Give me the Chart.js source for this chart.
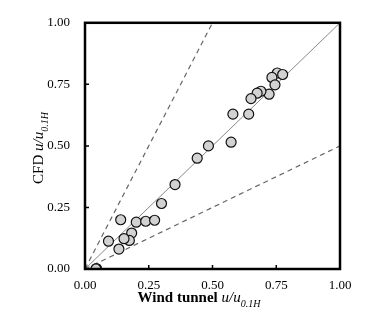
<!DOCTYPE html>
<html>
<head>
<meta charset="utf-8">
<script src="https://cdn.jsdelivr.net/npm/chart.js@4.4.0/dist/chart.umd.min.js"></script>
<style>
    html, body { margin: 0; padding: 0; background: #fff; }
    #wrap { width: 386px; height: 330px; }
</style>
</head>
<body>
<div id="wrap"><canvas id="scatter-cfd"></canvas></div>
<script>
// wind tunnel vs CFD normalised speed u/u0.1H
let windTunnel = [0.754, 0.775, 0.733, 0.745, 0.722, 0.690, 0.675, 0.651, 0.642, 0.580,
                  0.573, 0.484, 0.440, 0.353, 0.300, 0.140, 0.201, 0.238, 0.273, 0.183,
                  0.174, 0.153, 0.092, 0.133, 0.045, 0.043];
let cfd = [0.796, 0.790, 0.778, 0.748, 0.710, 0.722, 0.714, 0.692, 0.629, 0.629,
           0.515, 0.500, 0.450, 0.343, 0.266, 0.200, 0.190, 0.194, 0.198, 0.146,
           0.116, 0.123, 0.113, 0.081, 0.002, 0.0];

// reference lines: 1:1 and factor of two either side
let lineOneToOne = [[0, 0], [1, 1]];
let lineUpper = [[0, 0], [0.5, 1]];
let lineLower = [[0, 0], [1, 0.5]];

let tickValues = [0, 0.25, 0.5, 0.75, 1];

let serif = "'Liberation Serif', 'Times New Roman', serif";

function toXY(pairs) {
    return pairs.map(function (p) { return { x: p[0], y: p[1] }; });
}

let points = [];
for (let i = 0; i < windTunnel.length; i++) {
    points.push({ x: windTunnel[i], y: cfd[i] });
}

// draws a label made of runs like [text, font, dy]
function drawRuns(ctx, runs) {
    let x = 0;
    for (let i = 0; i < runs.length; i++) {
        ctx.font = runs[i][1];
        ctx.fillText(runs[i][0], x, runs[i][2]);
        x += ctx.measureText(runs[i][0]).width;
    }
    return x;
}

function runsWidth(ctx, runs) {
    let w = 0;
    for (let i = 0; i < runs.length; i++) {
        ctx.font = runs[i][1];
        w += ctx.measureText(runs[i][0]).width;
    }
    return w;
}

let framePlugin = {
    id: 'frame',
    afterDraw: function (chart) {
        let ctx = chart.ctx;
        let a = chart.chartArea;
        let xs = chart.scales.x;
        let ys = chart.scales.y;

        ctx.save();
        // inward ticks on bottom and left
        ctx.strokeStyle = '#000';
        ctx.lineWidth = 1.5;
        ctx.beginPath();
        for (let i = 1; i < tickValues.length - 1; i++) {
            let px = xs.getPixelForValue(tickValues[i]);
            ctx.moveTo(px, a.bottom);
            ctx.lineTo(px, a.bottom - 4);
            let py = ys.getPixelForValue(tickValues[i]);
            ctx.moveTo(a.left, py);
            ctx.lineTo(a.left + 4, py);
        }
        ctx.stroke();

        // box
        ctx.lineWidth = 2.5;
        ctx.strokeRect(a.left, a.top, a.right - a.left, a.bottom - a.top);

        // axis titles
        ctx.fillStyle = '#000';
        ctx.textBaseline = 'alphabetic';
        let xRuns = [
            ['Wind tunnel ', 'bold 15px ' + serif, 0],
            ['u/u', 'italic 15px ' + serif, 0],
            ['0.1H', 'italic 10px ' + serif, 5]
        ];
        let w = runsWidth(ctx, xRuns);
        ctx.save();
        ctx.translate(199 - w / 2, 302);
        drawRuns(ctx, xRuns);
        ctx.restore();

        let yRuns = [
            ['CFD ', '15px ' + serif, 0],
            ['u/u', 'italic 15px ' + serif, 0],
            ['0.1H', 'italic 10px ' + serif, 5]
        ];
        w = runsWidth(ctx, yRuns);
        ctx.save();
        ctx.translate(43, 148 + w / 2);
        ctx.rotate(-Math.PI / 2);
        drawRuns(ctx, yRuns);
        ctx.restore();

        ctx.restore();
    }
};

new Chart(document.getElementById('scatter-cfd'), {
    type: 'scatter',
    data: {
        datasets: [{
            label: 'CFD',
            data: points,
            pointRadius: 5,
            pointBackgroundColor: '#d2d2d2',
            pointBorderColor: '#111',
            pointBorderWidth: 1.2
        }, {
            type: 'line',
            label: '1:1',
            data: toXY(lineOneToOne),
            borderColor: '#7a7a7a',
            borderWidth: 0.9,
            pointRadius: 0,
            fill: false
        }, {
            type: 'line',
            label: 'x2',
            data: toXY(lineUpper),
            borderColor: '#666',
            borderWidth: 1.2,
            borderDash: [5, 4],
            pointRadius: 0,
            fill: false
        }, {
            type: 'line',
            label: 'x0.5',
            data: toXY(lineLower),
            borderColor: '#666',
            borderWidth: 1.2,
            borderDash: [5, 4],
            pointRadius: 0,
            fill: false
        }]
    },
    options: {
        responsive: true,
        maintainAspectRatio: false,
        animation: false,
        layout: { padding: { left: 0, right: 46, top: 20, bottom: 0 } },
        plugins: {
            legend: { display: false },
            tooltip: { enabled: false }
        },
        scales: {
            x: {
                type: 'linear',
                min: 0,
                max: 1,
                afterFit: function (scale) { scale.height = 61; },
                grid: { display: false, drawTicks: false },
                border: { display: false },
                ticks: {
                    stepSize: 0.25,
                    padding: 9,
                    color: '#000',
                    font: { family: serif, size: 13 },
                    maxRotation: 0,
                    callback: function (v) { return v.toFixed(2); }
                }
            },
            y: {
                type: 'linear',
                min: 0,
                max: 1,
                afterFit: function (scale) { scale.width = 85; },
                grid: { display: false, drawTicks: false },
                border: { display: false },
                ticks: {
                    stepSize: 0.25,
                    padding: 15,
                    color: '#000',
                    font: { family: serif, size: 13 },
                    callback: function (v) { return v.toFixed(2); }
                }
            }
        }
    },
    plugins: [framePlugin]
});
</script>
</body>
</html>
